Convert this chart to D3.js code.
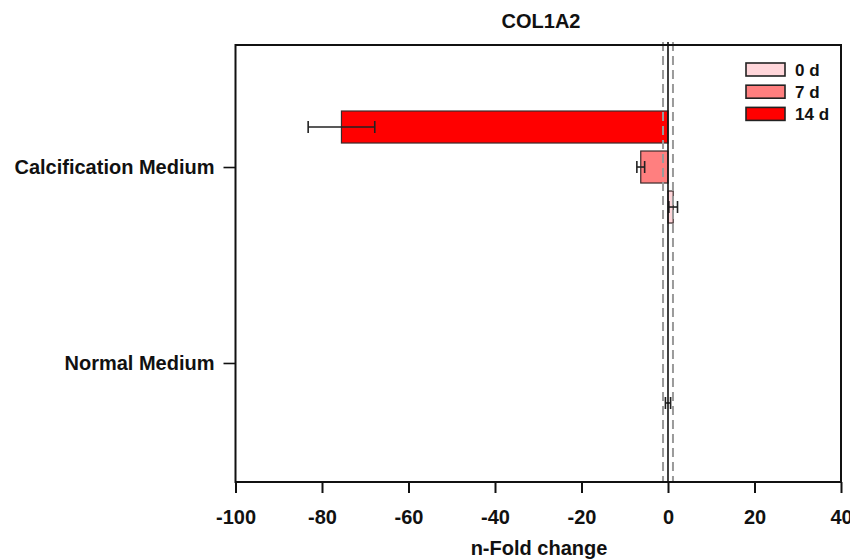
<!DOCTYPE html>
<html>
<head>
<meta charset="utf-8">
<script src="https://cdn.jsdelivr.net/npm/d3@7"></script>
<style>
  html, body { margin: 0; padding: 0; background: #fff; }
  svg { display: block; font-family: "Liberation Sans", Arial, sans-serif; }
  text { font-weight: bold; fill: #111; }
</style>
</head>
<body>
<svg id="chart" width="850" height="560"></svg>
<script>
// COL1A2 expression, n-fold change per medium and time point
const categories = ["Calcification Medium", "Normal Medium"];
const seriesNames = ["0 d", "7 d", "14 d"];
const values0d = [1.2, 0];
const errors0d = [1.0, 0.6];
const values7d = [-6.3, 0];
const errors7d = [0.9, 0];
const values14d = [-75.5, 0];
const errors14d = [7.7, 0];
const xTicks = [-100, -80, -60, -40, -20, 0, 20, 40];
const thresholds = [-1.15, 1.15];

const colors = { "0 d": "#ffd6da", "7 d": "#ff7f7f", "14 d": "#ff0000" };
const series = [
  { name: "0 d", values: values0d, errors: errors0d },
  { name: "7 d", values: values7d, errors: errors7d },
  { name: "14 d", values: values14d, errors: errors14d }
];

const svg = d3.select("#chart");
const frame = { left: 235.5, right: 841, top: 45, bottom: 482 };
const FONT = "Liberation Sans, Arial, sans-serif";

const x = d3.scaleLinear().domain([-100, 40]).range([frame.left, frame.right]);
const y = d3.scalePoint().domain(categories).range([frame.top + 1.5, frame.bottom + 1.5]).padding(0.615);
// bars inside a group: 14 d on top, 0 d at the bottom
const inner = d3.scaleBand().domain(["14 d", "7 d", "0 d"]).range([-60, 60])
  .paddingInner(0.2).paddingOuter(0.1);

// bars
const rows = [];
series.forEach(s => categories.forEach((c, i) => rows.push({ cat: c, name: s.name, v: s.values[i], e: s.errors[i] })));

svg.append("g").selectAll("rect").data(rows).join("rect")
  .attr("x", d => x(Math.min(0, d.v)))
  .attr("width", d => Math.abs(x(d.v) - x(0)))
  .attr("y", d => y(d.cat) + inner(d.name))
  .attr("height", inner.bandwidth())
  .attr("fill", d => colors[d.name])
  .attr("stroke", d => d.v === 0 ? "none" : "#3a2a2a")
  .attr("stroke-width", 1.2);

// error bars
const eb = svg.append("g").attr("stroke", "#222").attr("stroke-width", 1.6);
rows.filter(d => d.e > 0).forEach(d => {
  const cy = y(d.cat) + inner(d.name) + inner.bandwidth() / 2;
  eb.append("line").attr("x1", x(d.v - d.e)).attr("x2", x(d.v + d.e)).attr("y1", cy).attr("y2", cy);
  [d.v - d.e, d.v + d.e].forEach(t =>
    eb.append("line").attr("x1", x(t)).attr("x2", x(t)).attr("y1", cy - 6).attr("y2", cy + 6));
});

// threshold lines and zero line
svg.append("g").selectAll("line").data(thresholds).join("line")
  .attr("x1", d => x(d)).attr("x2", d => x(d))
  .attr("y1", frame.top - 3).attr("y2", frame.bottom)
  .attr("stroke", "#9a9a9a").attr("stroke-width", 2).attr("stroke-dasharray", "9,5");
svg.append("line")
  .attr("x1", x(0)).attr("x2", x(0)).attr("y1", frame.top - 3).attr("y2", frame.bottom)
  .attr("stroke", "#111").attr("stroke-width", 1.6);

// frame
svg.append("rect")
  .attr("x", frame.left).attr("y", frame.top)
  .attr("width", frame.right - frame.left).attr("height", frame.bottom - frame.top)
  .attr("fill", "none").attr("stroke", "#111").attr("stroke-width", 2);

// x axis
const xAxis = svg.append("g").attr("transform", `translate(0,${frame.bottom})`)
  .call(d3.axisBottom(x).tickValues(xTicks).tickSize(11).tickPadding(17).tickFormat(d => String(d)));
xAxis.select(".domain").remove();
xAxis.selectAll(".tick line").attr("stroke", "#111").attr("stroke-width", 2);
xAxis.selectAll(".tick text").attr("font-size", 20).attr("font-family", FONT).attr("font-weight", "bold").attr("fill", "#111");

// y axis
const yAxis = svg.append("g").attr("transform", `translate(${frame.left},0)`)
  .call(d3.axisLeft(y).tickSize(12).tickPadding(9));
yAxis.select(".domain").remove();
yAxis.selectAll(".tick line").attr("stroke", "#111").attr("stroke-width", 1.6);
yAxis.selectAll(".tick text").attr("font-size", 20).attr("font-family", FONT).attr("font-weight", "bold").attr("fill", "#111");

// title and axis label
svg.append("text").attr("x", 541).attr("y", 28)
  .attr("text-anchor", "middle").attr("font-size", 20).text("COL1A2");
svg.append("text").attr("x", 539).attr("y", 555)
  .attr("text-anchor", "middle").attr("font-size", 20).text("n-Fold change");

// legend
const legend = svg.append("g").attr("transform", "translate(746,63)");
seriesNames.forEach((n, i) => {
  const g = legend.append("g").attr("transform", `translate(0,${i * 22.2})`);
  g.append("rect").attr("width", 39).attr("height", 13)
    .attr("fill", colors[n]).attr("stroke", "#222").attr("stroke-width", 1.6);
  g.append("text").attr("x", 49).attr("y", 13).attr("font-size", 17).text(n);
});
</script>
</body>
</html>
